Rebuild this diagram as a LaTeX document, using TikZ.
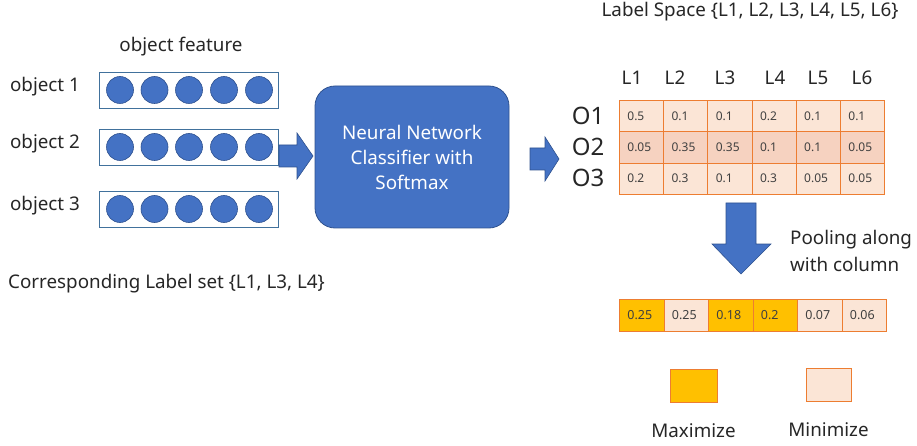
\documentclass[tikz,border=0pt]{standalone}
\usepackage{fontspec}
\setmainfont{Noto Sans}
\usetikzlibrary{positioning}

\definecolor{nnblue}{HTML}{4472C4}
\definecolor{nnedge}{HTML}{2F528F}
\definecolor{featedge}{HTML}{41719C}
\definecolor{cellorange}{HTML}{ED7D31}
\definecolor{celllight}{HTML}{FBE5D6}
\definecolor{cellmid}{HTML}{F6D2C0}
\definecolor{maxgold}{HTML}{FFC000}

\tikzset{
  txt/.style={font=\fontsize{18.8}{22}\selectfont, text=black!85, inner sep=0pt},
  unit/.style={circle, fill=nnblue, draw=nnedge, line width=0.6pt, minimum size=27pt, inner sep=0pt},
  blockarrow/.style={fill=nnblue, draw=nnedge, line width=0.6pt},
  cell/.style={draw=cellorange, line width=0.8pt, anchor=north west, minimum height=31.3pt,
    inner xsep=8pt, inner ysep=0pt, text width=28.2pt, align=left,
    font=\fontsize{12}{13}\selectfont, text=black!75},
  poolcell/.style={cell, minimum height=32pt, text width=28.5pt, font=\fontsize{12.5}{14}\selectfont},
}

\begin{document}
\begin{tikzpicture}[x=1pt, y=-1pt]
  \useasboundingbox (0,0) rectangle (917,446);

  % Object features
  \node[txt] (feat) at (181,47) {object feature};
  \foreach \k/\yy in {1/90, 2/147, 3/209} {
    \draw[draw=featedge, line width=0.8pt] (99,\yy-18) rectangle (278,\yy+18);
    \node[txt] (obj\k) at (45,\yy-3) {object \k};
    \foreach \xx [count=\u] in {120,154.5,189,224,259}
      \node[unit] (u\k\u) at (\xx,\yy) {};
  }

  % Arrow into the classifier
  \draw[blockarrow] (279,145) -- (297,145) -- (297,133) -- (313,156)
    -- (297,179) -- (297,167) -- (279,167) -- cycle;

  % Classifier
  \node[fill=nnblue, draw=nnedge, line width=0.8pt, rounded corners=20pt,
    minimum width=194pt, minimum height=142pt, align=center,
    font=\fontsize{18.8}{25}\selectfont, text=white] (nn) at (412,157)
    {Neural Network\\Classifier with\\Softmax};

  % Arrow out of the classifier
  \draw[blockarrow] (530,148) -- (545,148) -- (545,137) -- (559,159)
    -- (545,181) -- (545,170) -- (530,170) -- cycle;

  % Label space and score table
  \node[txt] (space) at (750,12) {Label Space \{L1, L2, L3, L4, L5, L6\}};
  \foreach \xx [count=\j] in {632,675,725,775,818,862}
    \node[txt] (L\j) at (\xx,78) {L\j};
  \foreach \vals [count=\i] in {{0.5,0.1,0.1,0.2,0.1,0.1},
                               {0.05,0.35,0.35,0.1,0.1,0.05},
                               {0.2,0.3,0.1,0.3,0.05,0.05}} {
    \ifnum\i=2 \def\rowfill{cellmid}\else\def\rowfill{celllight}\fi
    \node[txt, font=\fontsize{24}{26}\selectfont] (O\i) at (588,100+31.3*\i-15.65) {O\i};
    \foreach \v [count=\j] in \vals
      \node[cell, fill=\rowfill] (t\i\j) at (619+44.2*\j-44.2,100+31.3*\i-31.3) {\v};
  }

  % Pooling arrow
  \draw[blockarrow] (726,203) -- (756,203) -- (756,244) -- (771,244)
    -- (741,274) -- (712,244) -- (726,244) -- cycle;
  \node[txt, anchor=west, align=left, font=\fontsize{18.8}{27}\selectfont] (pool) at (790,251)
    {Pooling along\\with column};

  % Pooled scores
  \foreach \v/\c [count=\j] in {0.25/maxgold, 0.25/celllight, 0.18/maxgold,
                                0.2/maxgold, 0.07/celllight, 0.06/celllight}
    \node[poolcell, fill=\c] (p\j) at (619+44.5*\j-44.5,299) {\v};

  \node[txt, anchor=west] (labels) at (8,284) {Corresponding Label set \{L1, L3, L4\}};

  % Legend
  \node[draw=cellorange, line width=0.8pt, fill=maxgold, minimum width=47pt,
    minimum height=33pt] (maxbox) at (693.5,385.5) {};
  \node[draw=cellorange, line width=0.8pt, fill=celllight, minimum width=45pt,
    minimum height=33pt] (minbox) at (828.5,384.5) {};
  \node[txt, below=21pt of maxbox] (maxtxt) {Maximize};
  \node[txt, below=21pt of minbox] (mintxt) {Minimize};
\end{tikzpicture}
\end{document}
